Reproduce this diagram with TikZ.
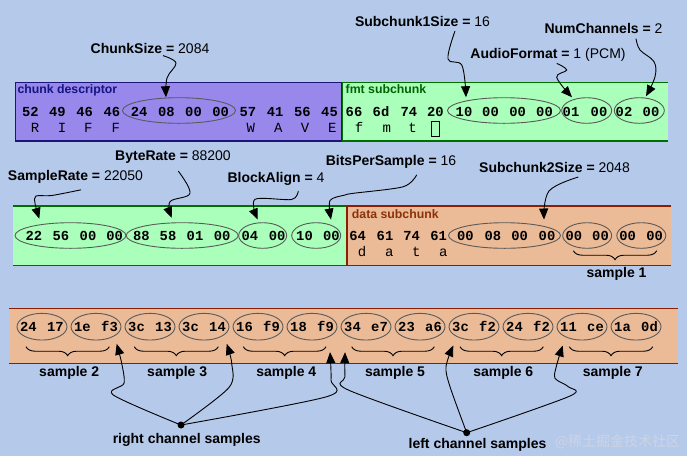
\documentclass[tikz,border=0pt]{standalone}
\usepackage{fontspec}
\setmainfont{Liberation Sans}
\setmonofont{Liberation Mono}
\newfontfamily\cjk{Noto Sans CJK SC}
\usetikzlibrary{arrows.meta,shapes.geometric,decorations.pathreplacing}
\definecolor{bg}{RGB}{181,201,235}
\definecolor{chunkfill}{RGB}{152,136,236}
\definecolor{navyb}{RGB}{30,20,120}
\definecolor{navytext}{RGB}{20,20,130}
\definecolor{fmtfill}{RGB}{170,255,187}
\definecolor{greenb}{RGB}{0,110,0}
\definecolor{greentext}{RGB}{0,100,0}
\definecolor{datafill}{RGB}{235,187,152}
\definecolor{redb}{RGB}{140,30,0}
\definecolor{redtext}{RGB}{140,50,10}
\definecolor{ellc}{RGB}{90,90,90}
\definecolor{wmc}{RGB}{205,212,228}
\tikzset{
  bytetxt/.style={font=\ttfamily\bfseries\fontsize{13.8}{14}\selectfont, inner sep=0, anchor=base},
  chartxt/.style={font=\ttfamily\fontsize{14}{14}\selectfont, inner sep=0, anchor=base},
  lbl/.style={font=\fontsize{14}{15}\selectfont, inner sep=0, anchor=base},
  slbl/.style={font=\bfseries\fontsize{14}{15}\selectfont, inner sep=0, anchor=base},
  boxlbl/.style={font=\bfseries\fontsize{12.3}{13}\selectfont, inner sep=0, anchor=base west},
  ell/.style={draw=ellc, line width=0.9pt, ellipse, inner sep=0, minimum height=25.6},
  arr/.style={-{Triangle[length=11pt,width=9pt]}, line width=0.9pt, black},
  brc/.style={decorate, decoration={brace, mirror, amplitude=9pt}, line width=0.9pt},
  dot/.style={circle, fill=black, inner sep=0, minimum size=7}
}
\begin{document}
\begin{tikzpicture}[x=1pt,y=-1pt]
\path[fill=bg] (0,0) rectangle (687,456);

% ---------- row 1 boxes ----------
\fill[chunkfill] (15.3,82.7) rectangle (342,141);
\draw[navyb, line width=1.2pt] (15.3,82.7) rectangle (342,141);
\fill[fmtfill] (342.6,82.7) rectangle (667.7,141);
\draw[greenb, line width=1.2pt] (667.7,82.7) -- (342.6,82.7) -- (342.6,141) -- (667.7,141);
\node[boxlbl, text=navytext] (lcd) at (17.3,93.3) {chunk descriptor};
\node[boxlbl, text=greentext] (lfmt) at (345.5,93.3) {fmt subchunk};

% ---------- row 2 boxes ----------
\fill[fmtfill] (13.3,206) rectangle (347,265.7);
\draw[greenb, line width=1.2pt] (13.3,206) -- (347,206) (13.3,265.7) -- (347,265.7);
\fill[datafill] (347,206) rectangle (671,265.7);
\draw[redb, line width=1.2pt] (671,206) -- (347,206) -- (347,265.7) -- (671,265.7);
\node[boxlbl, text=redtext] (ldata) at (351.7,218.3) {data subchunk};

% ---------- row 3 box ----------
\fill[datafill] (9.3,308.3) rectangle (678.3,363.3);
\draw[redb, line width=1.2pt] (9.3,308.3) -- (678.3,308.3) (9.3,363.3) -- (678.3,363.3);

% ---------- row 1 bytes ----------
\foreach \b [count=\i from 0] in {52,49,46,46,24,08,00,00,57,41,56,45}
  \node[bytetxt] (c\i) at ({30.3+27.2*\i},116) {\b};
\foreach \x/\c [count=\i] in {35/R,62/I,88.3/F,115.7/F,250.7/W,278.3/A,305/V,332.3/E}
  \node[chartxt] (cl\i) at (\x,132.3) {\c};
\foreach \x/\b [count=\i] in {354/66,381/6d,408.8/74,435.3/20,464/10,490.5/00,517.7/00,544.5/00,571/01,599/00,624/02,651/00}
  \node[bytetxt] (f\i) at (\x,116) {\b};
\foreach \x/\c [count=\i] in {359/f,386.7/m,412.5/t}
  \node[chartxt] (fl\i) at (\x,132.3) {\c};
\node[draw, line width=0.8pt, inner sep=0, minimum width=8.3, minimum height=15] (fsp) at (435.2,129.2) {};

\node[ell, minimum width=113] (cs) at (179,110.5) {};
\node[ell, minimum width=113] (s1) at (504,110.5) {};
\node[ell, minimum width=50] (af) at (586.7,110.5) {};
\node[ell, minimum width=50] (nc) at (639.3,110.5) {};

% ---------- row 2 bytes ----------
\foreach \x/\b [count=\i] in {33.8/22,60.8/56,88/00,114.7/00,141.3/88,168/58,195/01,222.2/00,249.8/04,277.2/00,304.5/10,331.3/00}
  \node[bytetxt] (g\i) at (\x,240) {\b};
\foreach \x/\b [count=\i] in {357.7/64,385/61,411.7/74,438.7/61,465.3/00,492.8/08,519.7/00,547/00,573.8/00,600.5/00,627.7/00,654.7/00}
  \node[bytetxt] (d\i) at (\x,240) {\b};
\foreach \x/\c [count=\i] in {362/d,389.3/a,416.3/t,443.3/a}
  \node[chartxt] (dl\i) at (\x,256.7) {\c};

\node[ell, minimum width=111] (sr) at (70.5,235.5) {};
\node[ell, minimum width=112] (br) at (182.2,235.5) {};
\node[ell, minimum width=48] (ba) at (262.7,235.5) {};
\node[ell, minimum width=49] (bps) at (316.2,235.5) {};
\node[ell, minimum width=112] (s2) at (504.5,235.5) {};
\node[ell, minimum width=49] (da) at (587.2,235.5) {};
\node[ell, minimum width=49] (db) at (641.3,235.5) {};

\draw[brc] (573.3,250.7) -- (656.7,250.7);
\node[slbl] (smp1) at (616.5,277.5) {sample 1};

% ---------- row 3 bytes ----------
\foreach \a/\b [count=\i] in {24/17,1e/f3,3c/13,3c/14,16/f9,18/f9,34/e7,23/a6,3c/f2,24/f2,11/ce,1a/0d} {
  \node[ell, minimum width=50, minimum height=26.7] (r\i) at ({42+54*(\i-1)},326.7) {};
  \node[bytetxt] (ra\i) at ({42+54*(\i-1)-13.5},331) {\a};
  \node[bytetxt] (rb\i) at ({42+54*(\i-1)+13.5},331) {\b};
}
\draw[brc] (26,346.7) -- (109.3,346.7);
\draw[brc] (134.3,346.7) -- (218.3,346.7);
\draw[brc] (243.3,346.7) -- (326,346.7);
\draw[brc] (351.7,346.7) -- (434.3,346.7);
\draw[brc] (460,346.7) -- (543.3,346.7);
\draw[brc] (569.3,346.7) -- (652.7,346.7);
\node[slbl] (smp2) at (69.2,376) {sample 2};
\node[slbl] (smp3) at (177.2,376) {sample 3};
\node[slbl] (smp4) at (286.3,376) {sample 4};
\node[slbl] (smp5) at (395,376) {sample 5};
\node[slbl] (smp6) at (503.3,376) {sample 6};
\node[slbl] (smp7) at (612.8,376) {sample 7};

% ---------- labels ----------
\node[lbl] (lCS) at (150,53.3) {\textbf{ChunkSize =} 2084};
\node[lbl] (lS1) at (422.5,26.7) {\textbf{Subchunk1Size =} 16};
\node[lbl] (lNC) at (603.5,33.3) {\textbf{NumChannels =} 2};
\node[lbl] (lAF) at (548,58.3) {\textbf{AudioFormat =} 1 (PCM)};
\node[lbl] (lSR) at (75.5,180.7) {\textbf{SampleRate =} 22050};
\node[lbl] (lBR) at (173,160) {\textbf{ByteRate =} 88200};
\node[lbl] (lBA) at (276,182.7) {\textbf{BlockAlign =} 4};
\node[lbl] (lBP) at (391,165) {\textbf{BitsPerSample =} 16};
\node[lbl] (lS2) at (554.5,172.7) {\textbf{Subchunk2Size =} 2048};

% ---------- arrows rows 1-2 ----------
\draw[arr] plot[smooth,tension=0.6] coordinates {([xshift=13,yshift=-2]lCS.south) (176,63) (167,78) ([xshift=-13]cs.north)};
\draw[arr] plot[smooth,tension=0.6] coordinates {([xshift=32.5,yshift=-4]lS1.south) (448,59) (462,65.5) ([xshift=-38]s1.north)};
\draw[arr] plot[smooth,tension=0.6] coordinates {([xshift=8.7,yshift=-2]lAF.south) (566.7,70) (556.7,77.3) ([xshift=-14.7]af.north)};
\draw[arr] plot[smooth,tension=0.6] coordinates {([xshift=32.5,yshift=-5]lNC.south) (640,50) (654,61.7) (655,76.7) ([xshift=6.7,yshift=1]nc.north)};

\draw[arr] plot[smooth,tension=0.5] coordinates {([xshift=5.5,yshift=-6]lSR.south) (51.7,195.5) (36,196) (35,203.3) ([xshift=-31.2,yshift=3.5]sr.north)};
\draw[arr] plot[smooth,tension=0.6] coordinates {([xshift=5.3,yshift=-8]lBR.south) (190,193.3) (170,201.7) ([xshift=-10.5,yshift=4.4]br.north)};
\draw[arr] plot[smooth,tension=0.5] coordinates {([xshift=22.3,yshift=-5]lBA.south) (291.7,199.5) (255,199.3) ([xshift=-5,yshift=2.7]ba.north)};
\draw[arr] plot[smooth,tension=0.5] coordinates {([xshift=25.7,yshift=-6.7]lBP.south) (403.3,186.7) (353.3,193.3) (345,195) (330,200.5) ([xshift=14.8,yshift=2.7]bps.north)};
\draw[arr] plot[smooth,tension=0.6] coordinates {([xshift=23.8,yshift=-4]lS2.south) (549,191) ([xshift=39.5,yshift=2.7]s2.north)};

% ---------- channel arrows ----------
\node[dot] (rc) at (181,425) {};
\node[dot] (lc) at (466.7,432.7) {};
\node[slbl] (lRC) at (186.7,443.3) {right channel samples};
\node[slbl] (lLC) at (477.5,448.3) {left channel samples};

\draw[arr] plot[smooth,tension=0.5] coordinates {(rc.center) (113.3,395) (124,383.3) (121.7,363.3) ([xshift=20.7,yshift=-3.3]r2.south)};
\draw[arr] plot[smooth,tension=0.5] coordinates {(rc.center) (229,387.5) (231.7,363.3) ([xshift=22.7,yshift=-3.3]r4.south)};
\draw[arr] plot[smooth,tension=0.5] coordinates {(rc.center) (326.7,396.7) (331,380) ([xshift=18,yshift=-11.7]r6.south)};

\draw[arr] plot[smooth,tension=0.5] coordinates {(lc.center) (348.3,390) (345,376.7) ([xshift=-21,yshift=-11.7]r7.south)};
\draw[arr] plot[smooth,tension=0.5] coordinates {(lc.center) (450,386.7) (446,366.7) ([xshift=33.3,yshift=-5]r8.south)};
\draw[arr] plot[smooth,tension=0.5] coordinates {(lc.center) (570,396) (568.3,386.7) (555,378.3) (556.7,365) ([xshift=-19.3,yshift=-5]r11.south)};

% ---------- watermark ----------
\node[font=\cjk\fontsize{14}{14}\selectfont, text=wmc, anchor=base, inner sep=0] (wm) at (617.5,446.7) {@稀土掘金技术社区};
\end{tikzpicture}
\end{document}
